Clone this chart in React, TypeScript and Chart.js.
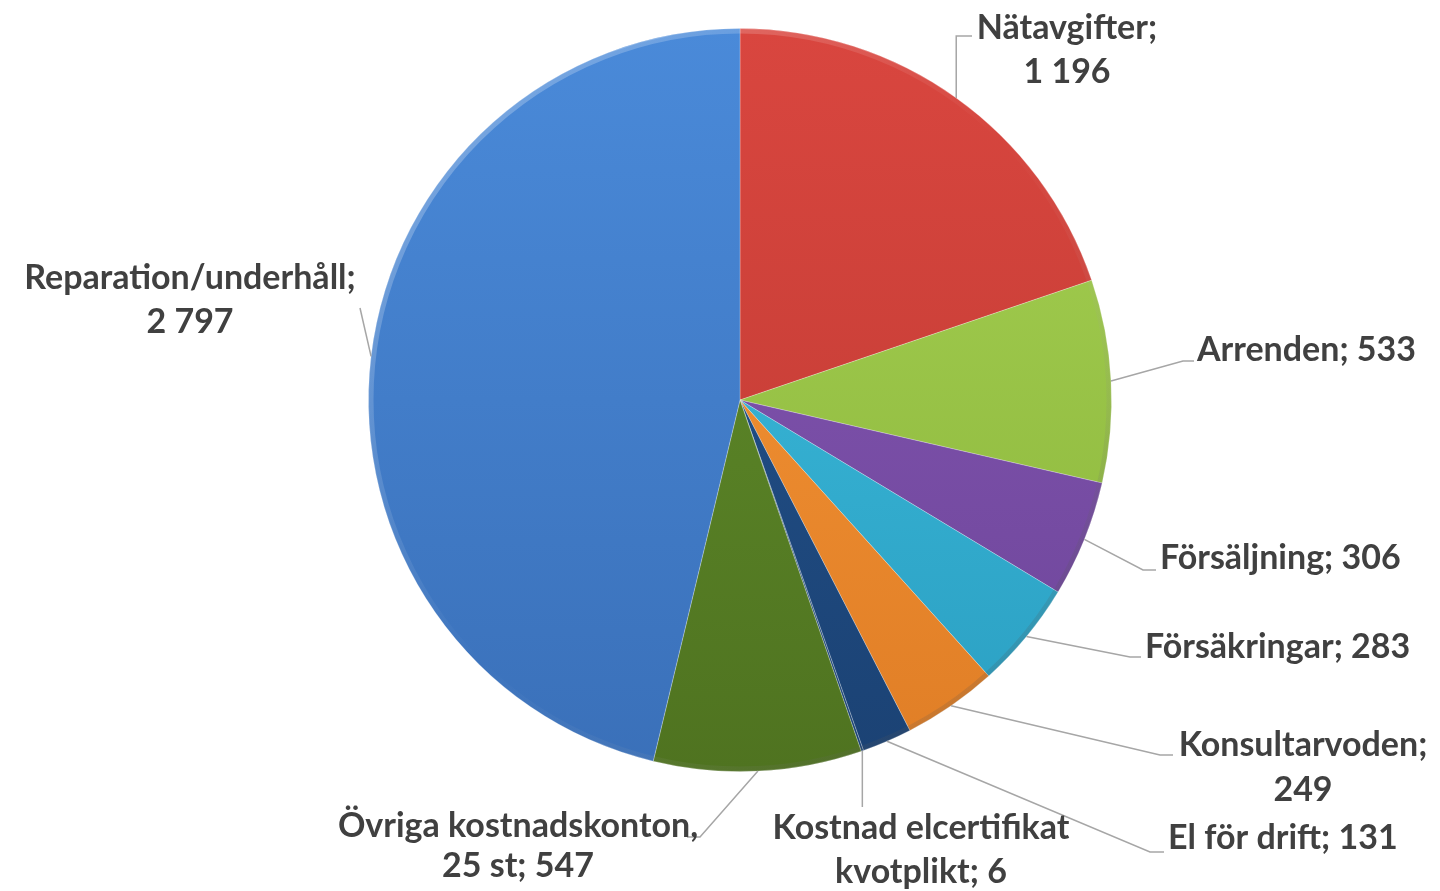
import React, { useEffect, useRef } from "react";
import { Chart, registerables } from "chart.js";

Chart.register(...registerables);

const categories = [
  "Nätavgifter",
  "Arrenden",
  "Försäljning",
  "Försäkringar",
  "Konsultarvoden",
  "El för drift",
  "Kostnad elcertifikat kvotplikt",
  "Övriga kostnadskonton, 25 st",
  "Reparation/underhåll",
];
const values = [1196, 533, 306, 283, 249, 131, 6, 547, 2797];
const labelLines = [
  ["Nätavgifter;", "1 196"],
  ["Arrenden; 533"],
  ["Försäljning; 306"],
  ["Försäkringar; 283"],
  ["Konsultarvoden;", "249"],
  ["El för drift; 131"],
  ["Kostnad elcertifikat", "kvotplikt; 6"],
  ["Övriga kostnadskonton,", "25 st; 547"],
  ["Reparation/underhåll;", "2 797"],
];
const topColors = ["#d9463f", "#a6d153", "#8658b5", "#3ec0e0", "#f89838", "#24558f", "#24558f", "#62902c", "#4a8ad9"];
const bottomColors = ["#bd3a32", "#8ab43a", "#6d4599", "#2b9fc2", "#e07e26", "#1b4274", "#1b4274", "#4f7320", "#3a70b9"];

// label layout: text anchor, alignment, line y's, elbow + end of leader
const labelLayout = [
  { x: 1067, ys: [28, 72], align: "center", elbow: null, end: [972, 36] },
  { x: 1197, ys: [350], align: "left", elbow: [1183, 361], end: [1194, 361] },
  { x: 1160, ys: [558], align: "left", elbow: [1143, 570], end: [1156, 570] },
  { x: 1145, ys: [647], align: "left", elbow: [1130, 657], end: [1141, 657] },
  { x: 1303, ys: [745, 790], align: "center", elbow: [1160, 755], end: [1173, 755] },
  { x: 1168, ys: [838], align: "left", elbow: [1150, 852], end: [1164, 852] },
  { x: 921, ys: [828, 872], align: "center", elbow: null, end: null, vEnd: 807 },
  { x: 518, ys: [826, 866], align: "center", elbow: [700, 837], end: [687, 837] },
  { x: 190, ys: [278, 322], align: "center", elbow: [360, 308], end: [360, 308] },
];

const FONT = "bold 34px Lato, 'Open Sans', sans-serif";

const labelPlugin = {
  id: "pieLabels",
  afterDatasetsDraw(chart: any) {
    const ctx = chart.ctx;
    const meta = chart.getDatasetMeta(0);
    const a0 = meta.data[0];
    ctx.save();
    const g = ctx.createLinearGradient(a0.x - a0.outerRadius, a0.y - a0.outerRadius, a0.x + a0.outerRadius, a0.y + a0.outerRadius);
    g.addColorStop(0, "rgba(255,255,255,0.35)");
    g.addColorStop(0.5, "rgba(255,255,255,0.0)");
    g.addColorStop(1, "rgba(0,0,0,0.25)");
    ctx.strokeStyle = g;
    ctx.lineWidth = 5;
    ctx.beginPath();
    ctx.arc(a0.x, a0.y, a0.outerRadius - 2.5, 0, Math.PI * 2);
    ctx.stroke();
    ctx.restore();

    ctx.save();
    ctx.strokeStyle = "#a6a6a6";
    ctx.lineWidth = 1.5;
    meta.data.forEach((arc: any, i: number) => {
      const L = labelLayout[i];
      const mid = (arc.startAngle + arc.endAngle) / 2;
      const sx = arc.x + Math.cos(mid) * arc.outerRadius;
      const sy = arc.y + Math.sin(mid) * arc.outerRadius;
      ctx.beginPath();
      ctx.moveTo(sx, sy);
      if (i === 0) {
        ctx.lineTo(sx, L.end[1]);
        ctx.lineTo(L.end[0], L.end[1]);
      } else if (L.vEnd) {
        ctx.lineTo(sx, L.vEnd);
      } else {
        ctx.lineTo(L.elbow[0], L.elbow[1]);
        ctx.lineTo(L.end[0], L.end[1]);
      }
      ctx.stroke();
    });
    ctx.restore();

    ctx.save();
    ctx.font = FONT;
    ctx.fillStyle = "#404040";
    ctx.textBaseline = "middle";
    labelLines.forEach((lines, i) => {
      const L = labelLayout[i];
      ctx.textAlign = L.align;
      lines.forEach((t, j) => ctx.fillText(t, L.x, L.ys[j]));
    });
    ctx.restore();
  },
};

export default function App() {
  const ref = useRef<HTMLCanvasElement>(null);
  useEffect(() => {
    document.body.style.margin = "0";
    const chart = new Chart(ref.current!, {
      type: "pie",
      data: {
        labels: categories,
        datasets: [
          {
            data: values,
            backgroundColor: (c: any) => {
              const ch = c.chart;
              const area = ch.chartArea;
              const i = c.dataIndex;
              if (!area) return topColors[i];
              const g = ch.ctx.createLinearGradient(0, area.top, 0, area.bottom);
              g.addColorStop(0, topColors[i]);
              g.addColorStop(1, bottomColors[i]);
              return g;
            },
            borderColor: "rgba(255,255,255,0.25)",
            borderWidth: 1,
          },
        ],
      },
      options: {
        animation: false,
        responsive: false,
        layout: { padding: { top: 28, bottom: 119, left: 368, right: 328 } },
        plugins: { legend: { display: false }, tooltip: { enabled: false } },
      },
      plugins: [labelPlugin],
    });
    return () => chart.destroy();
  }, []);
  return <canvas ref={ref} width={1440} height={891} style={{ display: "block" }} />;
}
